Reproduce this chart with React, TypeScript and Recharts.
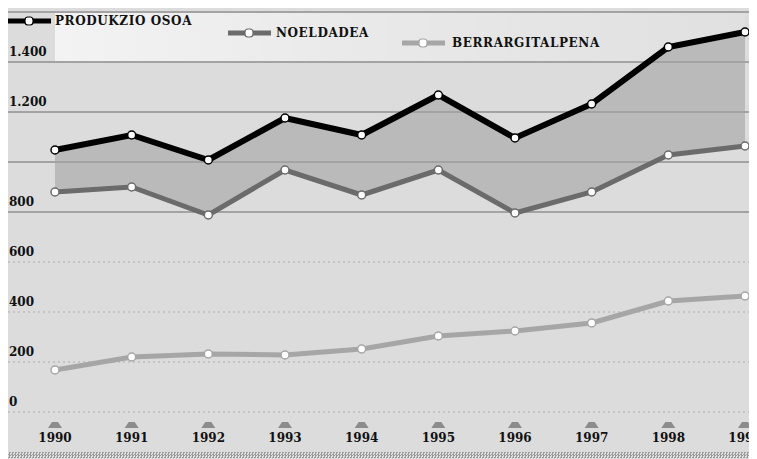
import React from "react";
import {
  Area,
  ComposedChart,
  Line,
  ReferenceArea,
  ReferenceLine,
  XAxis,
  YAxis,
} from "recharts";

const years = ["1990", "1991", "1992", "1993", "1994", "1995", "1996", "1997", "1998", "1999"];
const produkzioOsoa = [1048, 1108, 1008, 1176, 1108, 1268, 1096, 1232, 1460, 1520];
const noeldadea = [880, 900, 788, 968, 868, 968, 796, 880, 1028, 1064];
const berrargitalpena = [168, 220, 232, 228, 252, 304, 324, 356, 444, 464];

const yTicks = [0, 200, 400, 600, 800, 1000, 1200, 1400, 1600];
const yTickLabels = ["0", "200", "400", "600", "800", "", "1.200", "1.400", ""];

const seriesNames = ["PRODUKZIO OSOA", "NOELDADEA", "BERRARGITALPENA"];
const seriesColors = ["#000000", "#6b6b6b", "#a6a6a6"];

const data = years.map((year, i) => ({
  year,
  prod: produkzioOsoa[i],
  noel: noeldadea[i],
  berr: berrargitalpena[i],
  band: [noeldadea[i], produkzioOsoa[i]],
}));

const FONT = "'DejaVu Serif', serif";

function YLabel({ viewBox, value }: any) {
  if (!value) return null;
  return (
    <text x={1} y={viewBox.y - 6} fontFamily={FONT} fontWeight="bold" fontSize={12} fill="#111" textAnchor="start">
      {value}
    </text>
  );
}

function XTick({ x, y, payload }: any) {
  return (
    <g>
      <polygon points={`${x - 7},${y + 8} ${x + 7},${y + 8} ${x + 3},${y + 2} ${x - 3},${y + 2}`} fill="#8c8c8c" />
      <text x={x} y={y + 22} fontFamily={FONT} fontWeight="bold" fontSize={12} fill="#111" textAnchor="middle">
        {payload.value}
      </text>
    </g>
  );
}

function LegendBox() {
  // staggered legend entries like the printed original
  const items = [
    { x: 0, y: 13, textX: 47 },
    { x: 220, y: 25, textX: 268 },
    { x: 394, y: 35, textX: 444 },
  ];
  return (
    <svg width={749} height={50} style={{ position: "absolute", left: 0, top: 0 }}>
      {items.map((it, i) => (
        <g key={seriesNames[i]}>
          <line x1={it.x} x2={it.x + 43} y1={it.y} y2={it.y} stroke={seriesColors[i]} strokeWidth={5} />
          <rect x={it.x + 17} y={it.y - 4} width={8} height={8} rx={3} fill="#fff" stroke={seriesColors[i]} strokeWidth={1.2} />
          <text
            x={it.textX}
            y={it.y + 4}
            fontFamily={FONT}
            fontWeight="bold"
            fontSize={12}
            letterSpacing={0.6}
            fill="#111"
          >
            {seriesNames[i]}
          </text>
        </g>
      ))}
    </svg>
  );
}

function dotFor(color: string) {
  return { r: 4, fill: "#ffffff", stroke: color, strokeWidth: 1.5 };
}

export default function App() {
  return (
    <div style={{ position: "relative", width: 749, height: 451, background: "#dcdcdc" }}>
      <svg width={0} height={0} style={{ position: "absolute" }}>
        <defs>
          <linearGradient id="topBand" x1="0" y1="0" x2="1" y2="0">
            <stop offset="0%" stopColor="#f3f3f3" />
            <stop offset="45%" stopColor="#e9e9e9" />
            <stop offset="100%" stopColor="#e0e0e0" />
          </linearGradient>
        </defs>
      </svg>
      <ComposedChart width={749} height={451} data={data} margin={{ top: 4, right: 0, bottom: 0, left: 0 }}>
        <ReferenceArea y1={1400} y2={1600} fill="url(#topBand)" fillOpacity={1} stroke="none" />
        <XAxis
          dataKey="year"
          axisLine={false}
          tickLine={false}
          height={47}
          padding={{ left: 47, right: 12 }}
          tick={<XTick />}
          interval={0}
        />
        <YAxis domain={[0, 1600]} ticks={yTicks} hide />
        <Area
          dataKey="band"
          stroke="none"
          fill="#bababa"
          fillOpacity={1}
          isAnimationActive={false}
        />
        {yTicks.map((v, i) => (
          <ReferenceLine
            key={v}
            y={v}
            stroke={v >= 800 ? "#a3a3a3" : "#bcbcbc"}
            strokeWidth={v >= 800 ? 2 : 1.5}
            strokeDasharray={v >= 800 ? undefined : "2 3"}
            label={<YLabel value={yTickLabels[i]} />}
          />
        ))}
        <Line
          dataKey="berr"
          stroke={seriesColors[2]}
          strokeWidth={5}
          dot={dotFor(seriesColors[2])}
          isAnimationActive={false}
        />
        <Line
          dataKey="noel"
          stroke={seriesColors[1]}
          strokeWidth={5}
          dot={dotFor(seriesColors[1])}
          isAnimationActive={false}
        />
        <Line
          dataKey="prod"
          stroke={seriesColors[0]}
          strokeWidth={6}
          dot={dotFor(seriesColors[0])}
          isAnimationActive={false}
        />
      </ComposedChart>
      <LegendBox />
      <div
        style={{
          position: "absolute",
          left: 0,
          top: 444,
          width: 749,
          height: 6,
          background: "repeating-conic-gradient(#9a9a9a 0 25%, #e2e2e2 0 50%) 0 0 / 3px 3px",
        }}
      />
    </div>
  );
}
